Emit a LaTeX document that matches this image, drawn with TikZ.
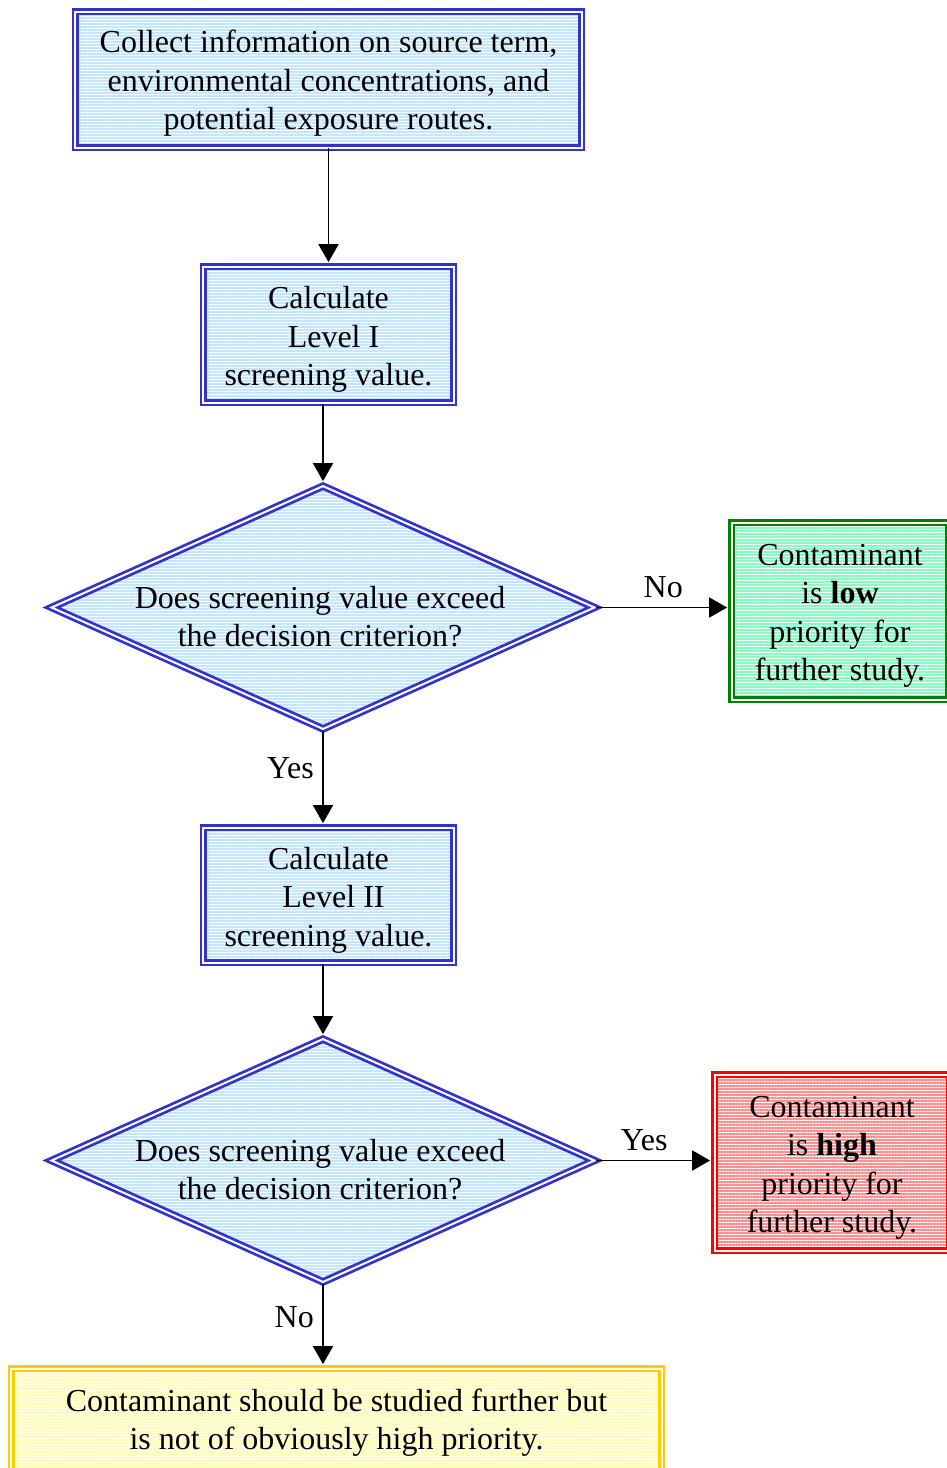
\documentclass[tikz,border=0pt]{standalone}
\usepackage{fontspec}
\setmainfont{Liberation Serif}
\usetikzlibrary{shapes.geometric,arrows.meta,patterns.meta}

\definecolor{azulborde}{RGB}{51,51,204}
\definecolor{azulfondo}{RGB}{196,230,255}
\definecolor{verdeborde}{RGB}{0,128,0}
\definecolor{verdefondo}{RGB}{140,250,195}
\definecolor{rojoborde}{RGB}{255,0,0}
\definecolor{rojofondo}{RGB}{255,145,145}
\definecolor{amarilloborde}{RGB}{255,204,0}
\definecolor{amarillofondo}{RGB}{255,255,185}

\tikzset{
  rayado/.style 2 args={draw=#1, double=white, double distance=0.8pt, line width=1.1pt,
    preaction={fill=#2}, pattern={Lines[angle=0,distance=1.2pt,line width=0.35pt]}, pattern color=white},
  azul/.style={rayado={azulborde}{azulfondo}},
  verde/.style={rayado={verdeborde}{verdefondo}},
  rojo/.style={rayado={rojoborde}{rojofondo}},
  amarillo/.style={rayado={amarilloborde}{amarillofondo}},
  caja/.style={rectangle, inner sep=0pt},
  rombo/.style={diamond, inner sep=0pt, aspect=2.3,
    minimum width=217.6pt, minimum height=97.6pt},
  texto/.style={align=center, inner sep=0pt},
  flecha/.style={-{Triangle[length=7.2pt,width=8pt]}, line width=0.7pt, shorten >=1.2pt},
  every node/.style={font=\fontsize{12.8}{15.4}\selectfont}
}

\begin{document}
\begin{tikzpicture}[x=0.4pt, y=-0.4pt]
    \useasboundingbox (0,0) rectangle (947,1468);

    % Cajas de proceso
    \node[caja, azul, minimum width=202.4pt, minimum height=54.4pt] (recoger) at (328.5,79.5) {};
    \node[caja, azul, minimum width=100pt, minimum height=54.4pt] (nivel1) at (328.5,334.5) {};
    \node[caja, azul, minimum width=100pt, minimum height=54pt] (nivel2) at (328.5,895) {};

    % Decisiones
    \node[rombo, azul] (decision1) at (323,607.5) {};
    \node[rombo, azul] (decision2) at (323,1160.5) {};

    % Resultados
    \node[caja, verde, minimum width=86.8pt, minimum height=70.8pt] (baja) at (840,611) {};
    \node[caja, rojo, minimum width=94pt, minimum height=70.4pt] (alta) at (832,1162.5) {};
    \node[caja, amarillo, minimum width=260pt, minimum height=41.2pt] (media) at (336.5,1420) {};

    % Textos
    \node[texto] (recoger-t) at ([yshift=-1.6pt]recoger.center)
      {Collect information on source term,\\ environmental concentrations, and\\ potential exposure routes.};
    \node[texto] (nivel1-t) at ([yshift=-2pt]nivel1.center) {Calculate\\ \mbox{\hspace{4pt}Level I}\\ screening value.};
    \node[texto] (nivel2-t) at ([yshift=-2pt]nivel2.center) {Calculate\\ \mbox{\hspace{4pt}Level II}\\ screening value.};
    \node[texto] (decision1-t) at ([xshift=-1.2pt,yshift=-3.6pt]decision1.center)
      {Does screening value exceed\\ the decision criterion?};
    \node[texto] (decision2-t) at ([xshift=-1.2pt,yshift=-3.6pt]decision2.center)
      {Does screening value exceed\\ the decision criterion?};
    \node[texto] (baja-t) at ([yshift=-2pt]baja.center) {Contaminant\\ is \textbf{low}\\ priority for\\ further study.};
    \node[texto] (alta-t) at ([yshift=-2.2pt]alta.center) {Contaminant\\ is \textbf{high}\\ priority for\\ further study.};
    \node[texto] (media-t) at ([yshift=-1pt]media.center)
      {Contaminant should be studied further but\\ is not of obviously high priority.};

    % Flechas
    \draw[flecha] (recoger) -- (nivel1);
    \draw[flecha] (nivel1.south -| decision1.north) -- (decision1.north);
    \draw[flecha] (decision1.east) -- node[above] {No} (decision1.east -| baja.west);
    \draw[flecha] (decision1.south) -- node[left, pos=0.39] {Yes} (decision1.south |- nivel2.north);
    \draw[flecha] (nivel2.south -| decision2.north) -- (decision2.north);
    \draw[flecha] (decision2.east) -- node[above, pos=0.41] {Yes} (decision2.east -| alta.west);
    \draw[flecha] (decision2.south) -- node[left, pos=0.4] {No} (decision2.south |- media.north);
  \end{tikzpicture}
\end{document}
